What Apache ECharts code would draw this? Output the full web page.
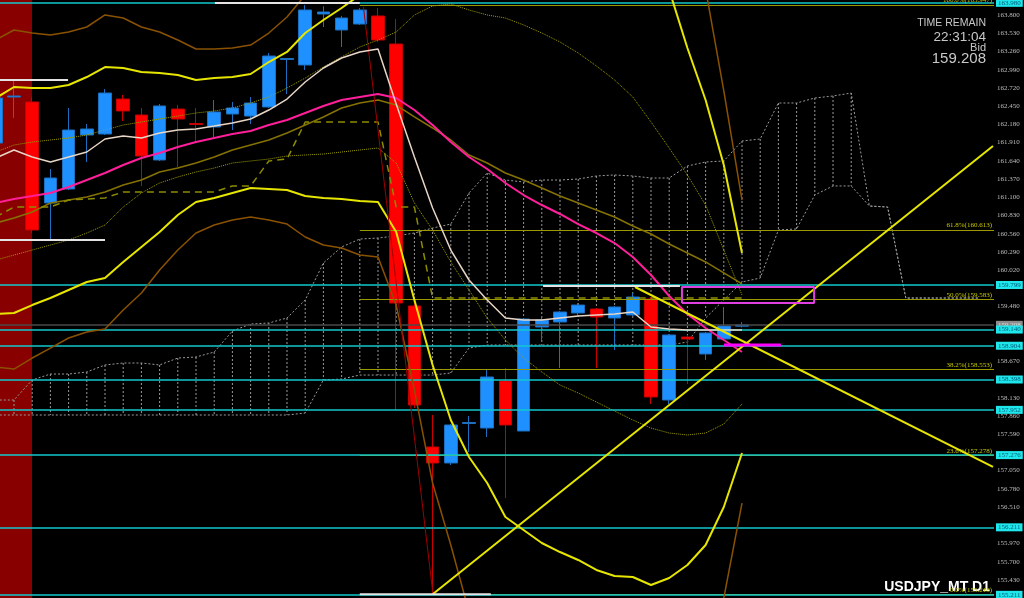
<!DOCTYPE html>
<html>
<head>
  <meta charset="utf-8">
  <title>USDJPY_MT D1</title>
  <script src="https://cdn.jsdelivr.net/npm/echarts@6/dist/echarts.min.js"></script>
  <style>
    html, body { margin: 0; padding: 0; background: #000; }
    #chart { width: 1024px; height: 598px; }
  </style>
</head>
<body>
<div id="chart"></div>
<script>
// daily bars, oldest first (price values)
const openP  = [161.903,162.585,162.511,161.015,161.222,162.022,162.037,162.555,162.318,161.652,162.407,162.192,162.141,162.333,162.303,162.437,163.141,163.059,163.815,163.578,163.666,163.785,163.370,159.489,157.400,157.163,157.748,157.681,158.378,157.637,159.178,159.252,159.385,159.444,159.311,159.356,159.592,158.096,159.029,158.778,159.000,159.190];
const closeP = [162.570,162.600,160.615,161.385,162.096,162.111,162.644,162.378,161.711,162.452,162.259,162.178,162.363,162.422,162.496,163.192,163.155,163.874,163.844,163.755,163.874,163.429,159.533,158.022,157.163,157.726,157.763,158.437,157.726,159.296,159.281,159.400,159.503,159.326,159.474,159.622,158.141,159.059,159.000,159.089,159.192,159.208];
const lowP   = [161.800,162.274,160.570,160.466,161.207,161.622,162.022,162.229,161.266,161.637,161.548,161.903,161.992,162.096,162.185,162.422,162.629,162.985,163.622,163.326,163.652,163.400,157.948,157.978,155.218,157.133,157.326,157.548,156.644,157.637,158.985,158.570,159.356,158.570,158.837,159.341,158.037,158.037,158.333,158.689,158.985,159.170];
const highP  = [162.615,162.837,162.585,161.518,162.422,162.185,162.703,162.615,162.422,162.481,162.466,162.422,162.541,162.511,162.585,163.237,163.163,163.947,163.930,163.785,163.903,163.903,163.741,159.578,157.874,157.741,157.859,158.541,158.570,159.311,159.311,159.415,159.533,159.459,159.489,159.681,159.622,159.074,159.059,159.104,159.474,159.250];

// indicators, one value per bar
const maFast = [161.681,161.800,161.696,161.622,161.696,161.770,161.963,162.007,161.978,162.052,162.096,162.111,162.155,162.200,162.259,162.392,162.555,162.807,163.015,163.163,163.252,163.296,162.481,161.696,160.941,160.318,159.874,159.578,159.311,159.281,159.281,159.311,159.341,159.356,159.370,159.400,159.178,159.148,159.133,159.133,159.133,159.133];
const maSlow = [161.015,161.074,161.118,161.163,161.252,161.355,161.459,161.578,161.681,161.755,161.844,161.918,161.978,162.037,162.081,162.170,162.244,162.348,162.452,162.541,162.585,162.629,162.570,162.392,162.170,161.918,161.696,161.518,161.311,161.133,160.985,160.852,160.703,160.570,160.422,160.215,159.948,159.637,159.370,159.163,158.985,158.807];
const bandMid = [160.718,160.792,160.881,161.015,161.059,161.104,161.178,161.281,161.355,161.474,161.533,161.607,161.696,161.800,161.874,161.948,162.052,162.170,162.289,162.422,162.496,162.541,162.466,162.289,162.126,161.948,161.726,161.607,161.459,161.355,161.237,161.118,161.015,160.911,160.807,160.674,160.555,160.407,160.274,160.141,159.978,159.815];
const bandUp1 = [161.770,161.874,161.918,161.948,161.978,162.022,162.096,162.170,162.215,162.259,162.303,162.348,162.378,162.422,162.496,162.585,162.718,162.866,163.029,163.178,163.326,163.429,163.548,163.800,163.933,163.963,163.874,163.800,163.755,163.652,163.533,163.400,163.237,163.044,162.837,162.585,162.215,161.829,161.429,160.985,160.318,159.652];
const bandLo1 = [160.170,160.244,160.318,160.392,160.466,160.570,160.689,160.955,161.163,161.311,161.400,161.474,161.533,161.607,161.637,161.666,161.711,161.726,161.740,161.770,161.800,161.829,161.607,161.015,160.615,160.141,159.726,159.311,158.985,158.718,158.511,158.318,158.200,158.066,157.933,157.800,157.681,157.607,157.578,157.607,157.741,158.037];
const bandUp2 = [162.570,162.733,162.718,162.718,162.763,162.881,163.029,163.015,162.955,162.941,162.911,162.837,162.866,162.881,162.926,163.103,163.252,163.533,163.726,163.903,164.096,164.170,164.318,164.615,165.207,165.800,166.244,166.541,166.689,166.837,166.837,166.763,166.615,166.392,166.096,165.652,165.059,164.170,163.311,162.541,161.578,160.274];
const bandLo2 = [159.370,159.385,159.503,159.607,159.726,159.844,159.903,160.141,160.363,160.585,160.837,161.029,161.089,161.163,161.237,161.222,161.207,161.118,161.089,161.074,161.044,161.029,160.585,159.578,158.615,157.800,157.252,156.866,156.363,156.170,155.978,155.844,155.726,155.578,155.489,155.474,155.355,155.459,155.652,155.948,156.511,157.311];
const bandUp3 = [163.429,163.578,163.533,163.503,163.548,163.622,163.800,163.755,163.622,163.548,163.429,163.296,163.296,163.311,163.355,163.533,163.770,164.096,164.392,164.615,164.837,165.059,165.504,166.096,166.837,167.430,167.874,168.170,168.318,168.393,168.318,168.170,167.948,167.652,167.207,166.689,166.244,165.950,165.711,164.185,162.674,161.059];
const bandLo3 = [158.585,158.555,158.718,158.866,159.015,159.103,159.148,159.430,159.681,160.022,160.318,160.570,160.689,160.763,160.807,160.763,160.703,160.511,160.392,160.348,160.244,160.215,159.503,158.244,156.866,155.948,154.955,154.096,153.355,152.763,152.318,152.022,151.874,151.874,151.948,152.096,152.244,152.392,152.615,153.874,155.163,156.570];
const kijun = [160.807,160.955,160.955,160.955,161.059,161.074,161.089,161.178,161.178,161.178,161.178,161.178,161.178,161.267,161.267,161.637,161.666,162.215,162.215,162.215,162.215,162.215,160.955,160.955,159.607,159.607,159.607,159.607,159.607,159.607,159.607,159.607,159.607,159.607,159.607,159.607,159.607,159.607,159.607,159.607,159.607,159.607];

// cloud, runs past the last bar
const spanA = [158.096,158.096,158.393,158.481,158.481,158.511,158.615,158.644,158.644,158.615,158.718,158.733,158.807,159.118,159.222,159.237,159.311,159.578,160.126,160.363,160.481,160.496,160.526,160.570,160.644,160.703,161.163,161.459,161.355,161.326,161.355,161.355,161.370,161.415,161.430,161.415,161.385,161.385,161.563,161.622,161.637,161.933,161.963,162.496,162.496,162.570,162.600,162.644,160.970,160.955,159.607,159.607,159.607,159.607,159.607];
const spanB = [157.874,157.874,157.874,157.874,157.874,157.874,157.874,157.874,157.874,157.874,157.874,157.874,157.874,157.874,157.874,157.874,157.874,157.903,158.393,158.407,158.466,158.466,158.466,158.466,158.466,158.496,158.866,158.911,158.911,158.911,158.911,158.911,158.911,158.911,158.911,158.911,158.911,158.911,158.955,159.311,159.578,159.844,159.903,160.615,160.630,161.133,161.267,161.267,160.970,160.955,159.607,159.607,159.607,159.607,159.607];

// horizontal levels
const cyanLevels = [163.980, 159.799, 159.140, 158.904, 158.398, 157.952, 157.276, 156.211, 155.211];
const bidPrice = 159.208;
const fibPct = [100.0, 61.8, 50.0, 38.2, 23.6, 0.0];
const fibPrice = [163.947, 160.613, 159.583, 158.553, 157.278, 155.218];
const fibStart = 20;
const whiteFrom = [0.23, 0.23, 12.04, 30.07, 20.0];
const whiteTo = [3.97, 6.0, 20.0, 37.59, 27.2];
const whitePrice = [162.837, 160.467, 163.978, 159.785, 155.220];

// drawn objects: [bar, price] end points
const trendUp = [[24.02, 155.222], [54.79, 161.859]];
const trendDown = [[35.12, 159.770], [54.79, 157.104]];
const redRay = [[20.2, 163.918], [24.02, 155.222]];
const boxBars = [37.7, 44.96];
const boxPrices = [159.533, 159.770];
const pinkSeg = [[40.01, 158.911], [43.14, 158.911]];

const tickValues = [163.800,163.530,163.260,162.990,162.720,162.450,162.180,161.910,161.640,161.370,161.100,160.830,160.560,160.290,160.020,159.480,158.670,158.130,157.860,157.590,157.050,156.780,156.510,155.970,155.700,155.430];

const Y_MIN = 155.163, Y_MAX = 164.022;
const X_MIN = -0.5, X_MAX = 54.846;

const chart = echarts.init(document.getElementById('chart'));

const pairs = arr => arr.map((v, i) => [i, v]);
function line(data, color, width, type, z) {
  return {
    type: 'line', xAxisIndex: 1, yAxisIndex: 1, data: data,
    symbol: 'none', silent: true, animation: false,
    lineStyle: { color: color, width: width, type: type || 'solid' },
    z: z || 5
  };
}

let cats = [];
for (let i = 0; i < 56; i++) cats.push(String(i));

let series = [];

// dark red session band
series.push({
  type: 'line', xAxisIndex: 1, yAxisIndex: 1, data: [], z: 0, silent: true,
  markArea: { silent: true, itemStyle: { color: '#880000' }, data: [[{ xAxis: X_MIN }, { xAxis: 1.99 }]] }
});

// cloud
series.push({
  type: 'custom', xAxisIndex: 1, yAxisIndex: 1, z: 1, silent: true, animation: false,
  data: spanA.map((v, i) => [i, v, spanB[i]]),
  encode: { x: 0, y: [1, 2] },
  renderItem: function (params, api) {
    const a = api.coord([api.value(0), api.value(1)]);
    const b = api.coord([api.value(0), api.value(2)]);
    return {
      type: 'line',
      shape: { x1: a[0], y1: a[1], x2: b[0], y2: b[1] },
      style: { stroke: '#9a9a9a', lineWidth: 1, lineDash: [2, 2] }
    };
  }
});
series.push(line(pairs(spanA), '#9a9a9a', 1, [2, 2], 1));
series.push(line(pairs(spanB), '#9a9a9a', 1, [2, 2], 1));

// candles
series.push({
  type: 'candlestick', xAxisIndex: 0, yAxisIndex: 0, z: 2, silent: true, animation: false,
  barWidth: 13,
  data: openP.map((o, i) => [o, closeP[i], lowP[i], highP[i]]),
  itemStyle: { color: '#1e90ff', color0: '#ff0000', borderColor: '#1d6fc0', borderColor0: '#c80000', borderWidth: 1 }
});

// bands and averages
series.push(line(pairs(bandUp3), '#8a5200', 1.5));
series.push(line(pairs(bandLo3), '#8a5200', 1.5));
series.push(line(pairs(bandUp1), '#a0a000', 1, 'dotted'));
series.push(line(pairs(bandLo1), '#a0a000', 1, 'dotted'));
series.push(line(pairs(bandUp2), '#e6e600', 2));
series.push(line(pairs(bandLo2), '#e6e600', 2));
series.push(line(pairs(bandMid), '#857200', 1.5));
series.push(line(pairs(kijun), '#8c8c00', 1.5, [7, 5]));
series.push(line(pairs(maSlow), '#ff1f9a', 2, 'solid', 6));
series.push(line(pairs(maFast), '#e8d6c6', 1.5, 'solid', 6));

// drawn objects
series.push(line(redRay, '#a00000', 1));
series.push(line(trendUp, '#e6e600', 2, 'solid', 7));
series.push(line(trendDown, '#e6e600', 2, 'solid', 7));
series.push(line([[boxBars[0], boxPrices[0]], [boxBars[1], boxPrices[0]], [boxBars[1], boxPrices[1]], [boxBars[0], boxPrices[1]], [boxBars[0], boxPrices[0]]], '#e040e0', 2, 'solid', 7));
series.push(line(pinkSeg, '#ff00ff', 3, 'solid', 7));
for (let k = 0; k < whitePrice.length; k++) {
  series.push(line([[whiteFrom[k], whitePrice[k]], [whiteTo[k], whitePrice[k]]], '#e4e4e4', 2, 'solid', 7));
}

// fibonacci levels
series.push({
  type: 'line', xAxisIndex: 1, yAxisIndex: 1, data: [], z: 4, silent: true,
  markLine: {
    silent: true, symbol: 'none', animation: false,
    lineStyle: { color: '#9a9a00', width: 1, type: 'solid' },
    label: { position: 'insideEndTop', distance: [2, 1], formatter: '{b}', color: '#c8c800', fontSize: 7, fontFamily: 'Liberation Serif' },
    data: fibPrice.map((p, k) => [
      { coord: [fibStart, p], name: fibPct[k].toFixed(1) + '%(' + p.toFixed(3) + ')' },
      { coord: [X_MAX, p] }
    ])
  }
});

// bid line
series.push({
  type: 'line', xAxisIndex: 1, yAxisIndex: 1, data: [], z: 4, silent: true,
  markLine: {
    silent: true, symbol: 'none', animation: false,
    lineStyle: { color: '#4a4a4a', width: 1.5, type: 'solid' },
    label: { position: 'end', distance: 2, formatter: '{b}', backgroundColor: '#8c8c8c', color: '#dcdcdc', fontSize: 7, padding: [1, 2, 0, 2], fontFamily: 'Liberation Serif' },
    data: [{ yAxis: bidPrice, name: bidPrice.toFixed(3) }]
  }
});

// cyan levels
series.push({
  type: 'line', xAxisIndex: 1, yAxisIndex: 1, data: [], z: 8, silent: true,
  markLine: {
    silent: true, symbol: 'none', animation: false,
    lineStyle: { color: '#12c8cc', width: 1.5, type: 'solid' },
    label: { position: 'end', distance: 2, formatter: '{b}', backgroundColor: '#1ee6ea', color: '#005a78', fontSize: 7, padding: [1, 2, 0, 2], fontFamily: 'Liberation Serif' },
    data: cyanLevels.map(v => ({ yAxis: v, name: v.toFixed(3) }))
  }
});

const option = {
  backgroundColor: '#000000',
  animation: false,
  grid: [
    { left: -13.3, top: 0, width: 1019.2, height: 598, outerBoundsMode: 'none' },
    { left: -13.3, top: 0, width: 1007.3, height: 598, outerBoundsMode: 'none' }
  ],
  xAxis: [
    { type: 'category', gridIndex: 0, data: cats, boundaryGap: true, show: false },
    { type: 'value', gridIndex: 1, min: X_MIN, max: X_MAX, show: false }
  ],
  yAxis: [
    { type: 'value', gridIndex: 0, min: Y_MIN, max: Y_MAX, show: false },
    {
      type: 'value', gridIndex: 1, min: Y_MIN, max: Y_MAX, position: 'right',
      axisLine: { show: true, lineStyle: { color: '#8c8c8c', width: 1 } },
      splitLine: { show: false },
      axisTick: { show: true, length: 3, inside: false, lineStyle: { color: '#8c8c8c' }, customValues: tickValues },
      axisLabel: { customValues: tickValues, formatter: v => v.toFixed(3), color: '#bdbdbd', fontSize: 7, fontFamily: 'Liberation Serif', margin: 3 }
    }
  ],
  graphic: [
    { type: 'text', right: 38, top: 18, silent: true, style: { text: 'TIME REMAIN', fill: '#c8c8c8', font: '10.5px "Liberation Sans"' } },
    { type: 'text', right: 38, top: 30, silent: true, style: { text: '22:31:04', fill: '#c8c8c8', font: '13.5px "Liberation Sans"' } },
    { type: 'text', right: 38, top: 42, silent: true, style: { text: 'Bid', fill: '#c8c8c8', font: '11px "Liberation Sans"' } },
    { type: 'text', right: 38, top: 51, silent: true, style: { text: '159.208', fill: '#c8c8c8', font: '15px "Liberation Sans"' } },
    { type: 'text', right: 34, top: 580, silent: true, style: { text: 'USDJPY_MT D1', fill: '#ffffff', font: 'bold 14px "Liberation Sans"' } }
  ],
  series: series
};

chart.setOption(option);
</script>
</body>
</html>
